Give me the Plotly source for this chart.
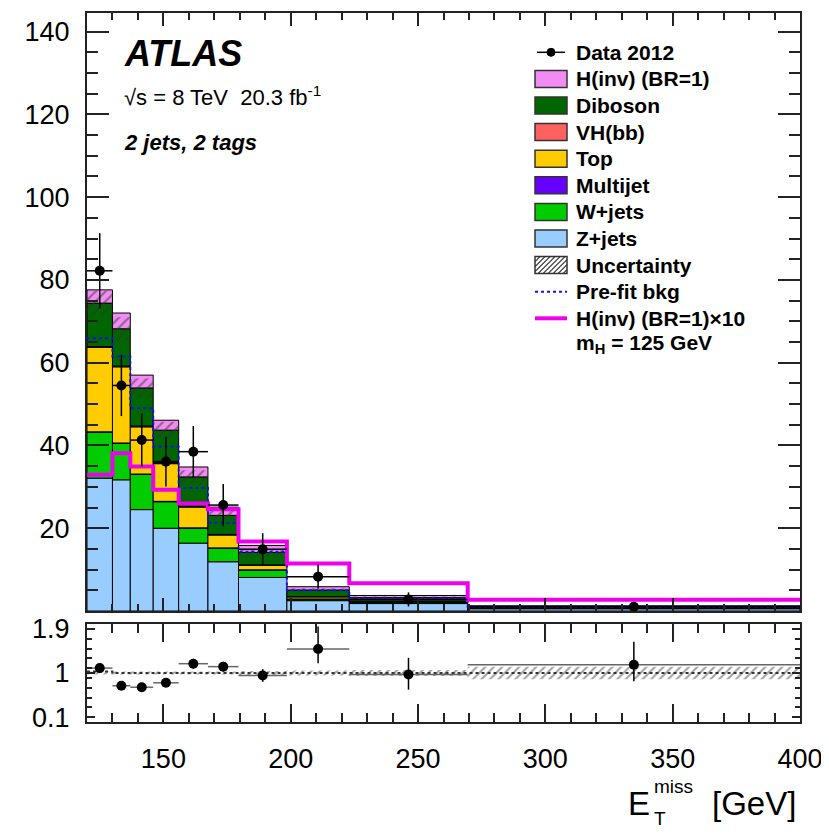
import numpy as np
import plotly.graph_objects as go

# ---------------- data ----------------
edges = [120, 130, 137, 146, 156, 167.5, 179.5, 198.5, 223, 269.5, 400]
z_jets   = [32.1, 31.7, 24.5, 20.0, 16.4, 11.9, 8.1, 2.5, 1.8, 0.55]
w_jets   = [11.1, 8.8, 8.5, 6.4, 3.6, 3.3, 1.8, 0.4, 0.25, 0.10]
multijet = [0.1, 0.1, 0.1, 0.1, 0.1, 0.05, 0.05, 0.02, 0.02, 0.01]
top      = [20.4, 18.4, 11.4, 9.1, 5.0, 3.1, 1.1, 0.5, 0.25, 0.10]
vhbb     = [0.2, 0.2, 0.2, 0.2, 0.2, 0.15, 0.1, 0.05, 0.03, 0.01]
diboson  = [10.5, 9.0, 9.2, 7.9, 7.1, 4.6, 3.0, 1.6, 0.9, 0.30]
hinv     = [3.2, 3.8, 3.1, 2.4, 2.4, 2.0, 1.7, 0.8, 0.5, 0.20]
hinv_x10 = [32.9, 38.1, 34.9, 29.3, 26.0, 24.6, 16.8, 11.5, 6.7, 2.7]
prefit   = [65.9, 61.5, 49.0, 39.7, 29.7, 21.3, 14.3, 5.0, 3.0, 1.0]
bkg_unc  = [3.0, 2.8, 2.3, 2.0, 1.6, 1.2, 0.9, 0.4, 0.25, 0.15]
data     = [82.2, 54.5, 41.3, 36.1, 38.5, 25.6, 14.9, 8.3, 2.8, 1.0]
data_err = [9.1, 7.4, 6.4, 6.0, 6.2, 5.1, 3.9, 2.9, 1.7, 1.0]

ratio        = [1.10, 0.74, 0.71, 0.80, 1.19, 1.13, 0.95, 1.49, 0.97, 1.17]
ratio_err_up = [0.06, 0.06, 0.06, 0.07, 0.10, 0.10, 0.13, 0.46, 0.34, 0.47]
ratio_err_dn = [0.06, 0.06, 0.06, 0.07, 0.10, 0.10, 0.13, 0.29, 0.31, 0.34]
ratio_unc    = [0.03, 0.03, 0.03, 0.03, 0.03, 0.03, 0.04, 0.05, 0.06, 0.13]
prefit_ratio = [1.03, 1.0, 1.0, 1.0, 1.0, 1.0, 1.0, 1.0, 1.0, 1.0]

legend_labels = ["Data 2012", "H(inv) (BR=1)", "Diboson", "VH(bb)", "Top", "Multijet",
                 "W+jets", "Z+jets", "Uncertainty", "Pre-fit bkg", "H(inv) (BR=1)×10"]

# ---------------- styling ----------------
FONT = "Liberation Sans, Arial, Helvetica, sans-serif"
C_Z, C_W, C_MJ, C_TOP = "#99ccff", "#00cc00", "#6600ff", "#ffcc00"
C_VH, C_DIB, C_H = "#ff6060", "#006600", "#f28cf2"
C_MAG, C_PRE = "#ee00ee", "#1010ff"
AX = "#222222"

# the page body has an 8px margin: compensate so the plot lands where the reference has it
OFF = 8
W, H = 829 - OFF, 835 - OFF
X0, X1, Y0, Y1 = 87, 800, 13, 722          # plot area in window pixels
PW, PH = X1 - X0, Y1 - Y0
ML, MT = X0 - OFF, Y0 - OFF
MR, MB = W - ML - PW, H - MT - PH


def px(x):
    return (x - X0) / PW


def py(y):
    return (Y1 - y) / PH


e = np.array(edges, dtype=float)
centers = 0.5 * (e[:-1] + e[1:])
widths = e[1:] - e[:-1]
halfw = widths / 2

fig = go.Figure()

components = [("Z+jets", z_jets, C_Z), ("W+jets", w_jets, C_W), ("Multijet", multijet, C_MJ),
              ("Top", top, C_TOP), ("VH(bb)", vhbb, C_VH), ("Diboson", diboson, C_DIB),
              ("H(inv) (BR=1)", hinv, C_H)]
base = np.zeros(len(centers))
bkg_total = None
for name, vals, col in components:
    v = np.array(vals, dtype=float)
    if name == "H(inv) (BR=1)":
        bkg_total = base.copy()
    fig.add_trace(go.Bar(x=centers, y=v, base=base.copy(), width=widths, name=name,
                         marker=dict(color=col, line=dict(color="black", width=1)),
                         xaxis="x", yaxis="y", showlegend=False))
    base = base + v

unc = np.array(bkg_unc)
fig.add_trace(go.Bar(x=centers, y=2 * unc, base=bkg_total - unc, width=widths,
                     marker=dict(color="rgba(0,0,0,0)", line=dict(width=0),
                                 pattern=dict(shape="/", fgcolor="#333333", bgcolor="rgba(0,0,0,0)",
                                              size=7, solidity=0.3)),
                     xaxis="x", yaxis="y", showlegend=False))

fig.add_trace(go.Scatter(x=e, y=list(prefit) + [prefit[-1]], mode="lines", line_shape="hv",
                         line=dict(color=C_PRE, width=2, dash="dot"), xaxis="x", yaxis="y",
                         showlegend=False))
fig.add_trace(go.Scatter(x=e, y=list(hinv_x10) + [hinv_x10[-1]], mode="lines", line_shape="hv",
                         line=dict(color=C_MAG, width=4), xaxis="x", yaxis="y", showlegend=False))
fig.add_trace(go.Scatter(x=centers, y=data, mode="markers",
                         marker=dict(color="black", size=10),
                         error_y=dict(type="data", array=data_err, color="black", thickness=1.5, width=0),
                         error_x=dict(type="data", array=halfw, color="black", thickness=1.5, width=0),
                         xaxis="x", yaxis="y", showlegend=False))

# ---------------- ratio panel ----------------
ru = np.array(ratio_unc)
fig.add_trace(go.Bar(x=centers, y=2 * ru, base=1 - ru, width=widths,
                     marker=dict(color="rgba(0,0,0,0)", line=dict(width=0),
                                 pattern=dict(shape="/", fgcolor="#444444", bgcolor="rgba(0,0,0,0)",
                                              size=6, solidity=0.35)),
                     xaxis="x2", yaxis="y2", showlegend=False))
fig.add_trace(go.Scatter(x=e, y=list(prefit_ratio) + [prefit_ratio[-1]], mode="lines", line_shape="hv",
                         line=dict(color="#333333", width=2, dash="dot"), xaxis="x2", yaxis="y2",
                         showlegend=False))
fig.add_trace(go.Scatter(x=centers, y=ratio, mode="markers",
                         marker=dict(color="black", size=10),
                         error_y=dict(type="data", array=ratio_err_up, arrayminus=ratio_err_dn,
                                      color="black", thickness=1.5, width=0),
                         error_x=dict(type="data", array=halfw, color="#666666", thickness=1.5, width=0),
                         xaxis="x2", yaxis="y2", showlegend=False))

# ---------------- axes ----------------
main_bottom = py(611)
ratio_top = py(624)
tickfont = dict(family=FONT, size=27, color="black")
common = dict(showgrid=False, zeroline=False, showline=True, linewidth=2, linecolor=AX,
              mirror="ticks", ticks="inside", tickcolor=AX, tickwidth=1.5)

fig.update_layout(
    width=W, height=H, margin=dict(l=ML, r=MR, t=MT, b=MB, autoexpand=False),
    paper_bgcolor="white", plot_bgcolor="white", barmode="overlay",
    xaxis=dict(domain=[0, 1], anchor="y", range=[120, 400], showticklabels=False,
               tick0=0, dtick=50, ticklen=13,
               minor=dict(ticks="inside", dtick=10, tick0=0, ticklen=7, tickwidth=1.5, tickcolor=AX),
               **common),
    yaxis=dict(domain=[main_bottom, 1], anchor="x", range=[0, 144.5],
               tickmode="array", tickvals=[20, 40, 60, 80, 100, 120, 140], ticklen=22,
               minor=dict(ticks="inside", tickmode="linear", tick0=0, dtick=5, ticklen=11,
                          tickwidth=1.5, tickcolor=AX),
               tickfont=tickfont, ticklabelstandoff=10, **common),
    xaxis2=dict(domain=[0, 1], anchor="y2", range=[120, 400], tick0=0, dtick=50, ticklen=18,
                minor=dict(ticks="inside", dtick=10, tick0=0, ticklen=9, tickwidth=1.5, tickcolor=AX),
                tickfont=tickfont, ticklabelstandoff=12, **common),
    yaxis2=dict(domain=[0, ratio_top], anchor="x2", range=[0, 2],
                tickmode="array", tickvals=[0.1, 1, 1.9], ticktext=["0.1", "1", "1.9"], ticklen=8,
                minor=dict(ticks="inside", tickmode="linear", tick0=0.1, dtick=0.2, ticklen=5,
                           tickwidth=1.5, tickcolor=AX),
                tickfont=tickfont, ticklabelstandoff=10, **common),
)

# ---------------- texts ----------------
ann = []


def text(x, y, s, size, xanchor="left", yanchor="middle", color="black"):
    ann.append(dict(x=px(x), y=py(y), xref="paper", yref="paper", text=s, showarrow=False,
                    xanchor=xanchor, yanchor=yanchor, font=dict(family=FONT, size=size, color=color)))


text(122, 53, "<b><i>ATLAS</i></b>", 36)
text(122, 96, "√s = 8 TeV  20.3 fb<sup>-1</sup>", 22)
text(122, 142, "<b><i>2 jets, 2 tags</i></b>", 22)

# axis title E_T^miss [GeV]
text(652, 803, "E", 33, xanchor="right")
text(652, 786, "miss", 19)
text(652, 818, "T", 19)
text(798, 803, "[GeV]", 33, xanchor="right")

# ---------------- custom legend ----------------
shapes = []
row0, dy = 52.3, 26.6
bx0, bx1 = 535, 567
for i, lab in enumerate(legend_labels):
    yc = row0 + i * dy
    text(574, yc, "<b>" + lab + "</b>", 21)
text(574, row0 + 11 * dy - 1, "<b>m<sub>H</sub> = 125 GeV</b>", 21)


def rect(x0, y0, x1, y1, fill, line="black", lw=1):
    shapes.append(dict(type="rect", xref="paper", yref="paper", x0=px(x0), x1=px(x1),
                       y0=py(y1), y1=py(y0), fillcolor=fill, line=dict(color=line, width=lw)))


def seg(x0, y0, x1, y1, color, width, dash="solid"):
    shapes.append(dict(type="line", xref="paper", yref="paper", x0=px(x0), x1=px(x1),
                       y0=py(y0), y1=py(y1), line=dict(color=color, width=width, dash=dash)))


box_cols = {1: C_H, 2: C_DIB, 3: C_VH, 4: C_TOP, 5: C_MJ, 6: C_W, 7: C_Z}
for i, col in box_cols.items():
    yc = row0 + i * dy
    rect(bx0, yc - 8.5, bx1, yc + 8.5, col, line="#333333", lw=1.5)

yc = row0
seg(bx0 + 2, yc, bx1 - 2, yc, "black", 1.5)
shapes.append(dict(type="circle", xref="paper", yref="paper", x0=px(547), x1=px(555),
                   y0=py(yc + 4), y1=py(yc - 4), fillcolor="black", line=dict(color="black", width=1)))
yc = row0 + 8 * dy
by0, by1 = yc - 8.5, yc + 8.5
rect(bx0, by0, bx1, by1, "white", line="#333333", lw=1.5)
h = by1 - by0
s = bx0 - h
while s < bx1:
    t0 = max(0.0, (bx0 - s) / h)
    t1 = min(1.0, (bx1 - s) / h)
    if t1 > t0:
        seg(s + t0 * h, by1 - t0 * h, s + t1 * h, by1 - t1 * h, "#333333", 1.2)
    s += 5
yc = row0 + 9 * dy
seg(bx0, yc, bx1, yc, C_PRE, 2, dash="dot")
yc = row0 + 10 * dy
seg(bx0, yc, bx1, yc, C_MAG, 4)

fig.update_layout(annotations=ann, shapes=shapes)
fig.write_html("out.html")
